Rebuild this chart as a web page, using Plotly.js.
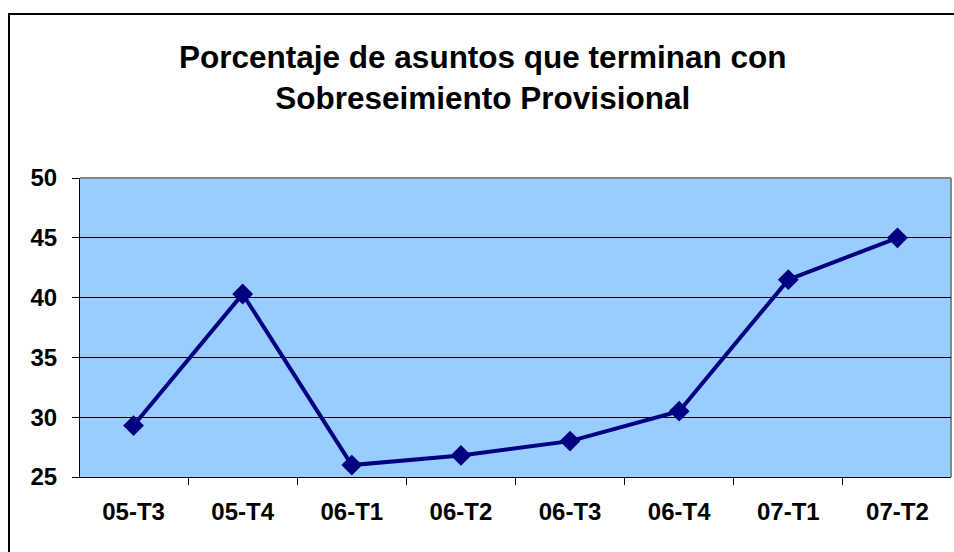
<!DOCTYPE html>
<html>
<head>
<meta charset="utf-8">
<script src="https://cdn.plot.ly/plotly-3.0.1.min.js"></script>
<style>
  body { margin: 0; background: #fff; }
  #chart { width: 954px; height: 552px; position: absolute; left: 0; top: 0; }
  #frame {
    position: absolute; left: 8px; top: 13px; width: 960px; height: 560px;
    border-left: 2px solid #000; border-top: 2px solid #000; pointer-events: none;
  }
</style>
</head>
<body>
<div id="chart"></div>
<div id="frame"></div>
<script>
// Sobreseimiento provisional, % por trimestre

var trimestres = ['05-T3', '05-T4', '06-T1', '06-T2', '06-T3', '06-T4', '07-T1', '07-T2'];
var porcentajes = [29.3, 40.3, 26.0, 26.8, 28.0, 30.5, 41.5, 45.0];
var yTicks = [25, 30, 35, 40, 45, 50];

var linea = {
    x: trimestres,
    y: porcentajes,
    type: 'scatter',
    mode: 'lines+markers',
    line: { color: '#000080', width: 4 },
    marker: { symbol: 'diamond', size: 16, color: '#000080' },
    hoverinfo: 'x+y'
};

var layout = {
    width: 954,
    height: 552,
    margin: { l: 80, r: 3, t: 178, b: 75 },
    paper_bgcolor: '#ffffff',
    plot_bgcolor: '#99ccff',
    showlegend: false,
    font: { family: 'Liberation Sans, Arial, sans-serif', color: '#000' },
    title: {
        text: '<b>Porcentaje de asuntos que terminan con<br>Sobreseimiento Provisional</b>',
        font: { size: 31.5, color: '#000' },
        x: 0.506,
        xref: 'container',
        xanchor: 'center',
        y: 0.876,
        yref: 'container',
        yanchor: 'top'
    },
    xaxis: {
        type: 'category',
        tickson: 'boundaries',
        ticks: 'outside',
        ticklen: 7,
        tickcolor: '#000',
        showline: true,
        linecolor: '#000',
        linewidth: 1,
        showgrid: false,
        zeroline: false,
        ticklabelstandoff: 13,
        tickfont: { size: 24, weight: 'bold' }
    },
    yaxis: {
        range: [25, 50],
        tickvals: yTicks,
        ticks: 'outside',
        ticklen: 7,
        tickcolor: '#000',
        showline: true,
        linecolor: '#000',
        linewidth: 1,
        showgrid: true,
        gridcolor: '#000',
        gridwidth: 1,
        zeroline: false,
        ticklabelstandoff: 10,
        tickfont: { size: 24, weight: 'bold' }
    },
    shapes: [
        { type: 'line', xref: 'paper', yref: 'paper', x0: 0, x1: 1, y0: 1, y1: 1,
          line: { color: '#888888', width: 2 }, layer: 'below' },
        { type: 'line', xref: 'paper', yref: 'paper', x0: 1, x1: 1, y0: 0, y1: 1,
          line: { color: '#888888', width: 2 }, layer: 'below' }
    ]
};

Plotly.newPlot('chart', [linea], layout, { displayModeBar: false, staticPlot: true });
</script>
</body>
</html>
